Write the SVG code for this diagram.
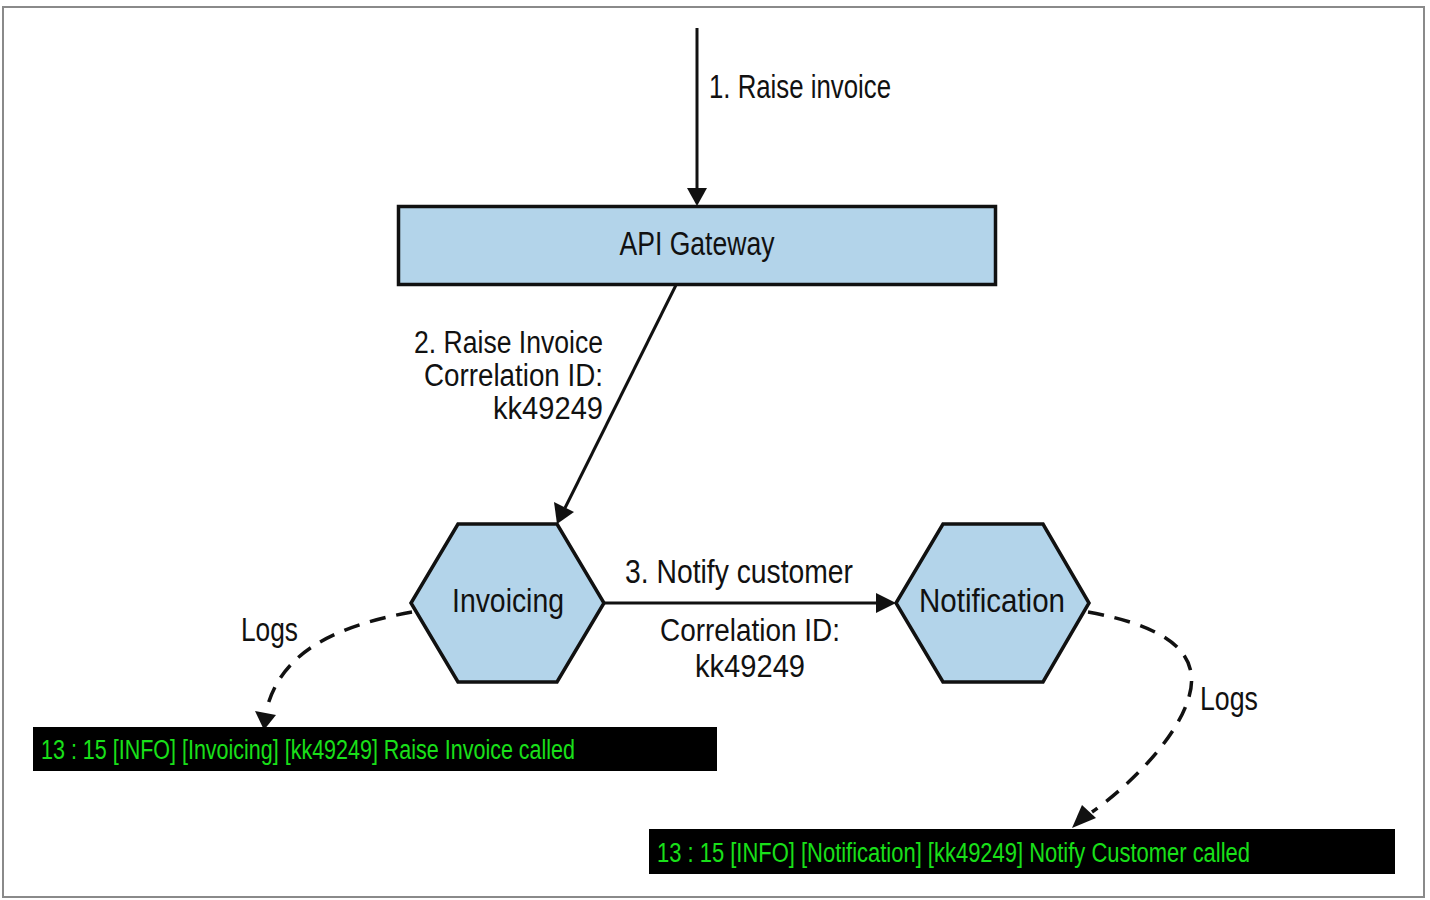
<svg xmlns="http://www.w3.org/2000/svg" width="1430" height="900" viewBox="0 0 1430 900">
<style>
.lbl{font-family:"Liberation Sans Narrow","Liberation Sans",Arial,sans-serif;font-size:34px;fill:#111}
.stk{font-family:"Liberation Sans Narrow","Liberation Sans",Arial,sans-serif;font-size:31px;fill:#111}
.log{font-family:"Liberation Sans Narrow","Liberation Sans",Arial,sans-serif;font-size:27px;fill:#19e019}
.node{fill:#b3d4ea;stroke:#111;stroke-width:3.5}
.edge{fill:none;stroke:#111;stroke-width:3}
.dash{fill:none;stroke:#111;stroke-width:3.5;stroke-dasharray:16 11}
</style>
<rect x="0" y="0" width="1430" height="900" fill="#fff"/>
<rect x="3" y="7" width="1421" height="890" fill="none" stroke="#8a8a8a" stroke-width="2"/>

<g id="connectors">
<path class="edge" d="M697,28 L697,190"/>
<path d="M687,188 L707,188 L697,206 Z" fill="#111"/>
<text class="lbl" x="709" y="98" textLength="182" lengthAdjust="spacingAndGlyphs">1. Raise invoice</text>

<path class="edge" d="M676,285 L565,508"/>
<path d="M554,502 L574,512 L557,524 Z" fill="#111"/>
<text class="stk" x="603" y="353" text-anchor="end" textLength="189" lengthAdjust="spacingAndGlyphs">2. Raise Invoice</text>
<text class="stk" x="603" y="386" text-anchor="end" textLength="179" lengthAdjust="spacingAndGlyphs">Correlation ID:</text>
<text class="stk" x="603" y="419" text-anchor="end" textLength="110" lengthAdjust="spacingAndGlyphs">kk49249</text>

<path class="edge" d="M604,603 L878,603"/>
<path d="M876,593 L896,603 L876,613 Z" fill="#111"/>
<text class="lbl" x="625" y="583" textLength="228" lengthAdjust="spacingAndGlyphs">3. Notify customer</text>
<text class="stk" x="660" y="641" textLength="180" lengthAdjust="spacingAndGlyphs">Correlation ID:</text>
<text class="stk" x="695" y="677" textLength="110" lengthAdjust="spacingAndGlyphs">kk49249</text>

<path class="dash" d="M412,612 C340,625 280,650 266,712"/>
<path d="M255,711 L276,715 L264,730 Z" fill="#111"/>
<text class="lbl" x="241" y="641" textLength="57" lengthAdjust="spacingAndGlyphs">Logs</text>

<path class="dash" d="M1088,612 C1160,625 1205,650 1188,700 C1175,740 1130,785 1092,812"/>
<path d="M1082,805 L1096,818 L1072,828 Z" fill="#111"/>
<text class="lbl" x="1200" y="710" textLength="58" lengthAdjust="spacingAndGlyphs">Logs</text>
</g>

<g id="api-gateway">
<rect class="node" x="398.5" y="206.5" width="597" height="78"/>
<text class="lbl" x="697" y="255" text-anchor="middle" textLength="155" lengthAdjust="spacingAndGlyphs">API Gateway</text>
</g>

<g id="invoicing">
<polygon class="node" points="458,524 557,524 604,603 557,682 458,682 411,603"/>
<text class="lbl" x="508" y="612" text-anchor="middle" textLength="112" lengthAdjust="spacingAndGlyphs">Invoicing</text>
</g>

<g id="notification">
<polygon class="node" points="943,524 1043,524 1089,603 1043,682 943,682 896,603"/>
<text class="lbl" x="992" y="612" text-anchor="middle" textLength="146" lengthAdjust="spacingAndGlyphs">Notification</text>
</g>

<g id="log-invoicing">
<rect x="33" y="727" width="684" height="44" fill="#000"/>
<text class="log" x="41" y="759" textLength="534" lengthAdjust="spacingAndGlyphs">13 : 15 [INFO] [Invoicing] [kk49249] Raise Invoice called</text>
</g>

<g id="log-notification">
<rect x="649" y="829" width="746" height="45" fill="#000"/>
<text class="log" x="657" y="862" textLength="593" lengthAdjust="spacingAndGlyphs">13 : 15 [INFO] [Notification] [kk49249] Notify Customer called</text>
</g>
</svg>
